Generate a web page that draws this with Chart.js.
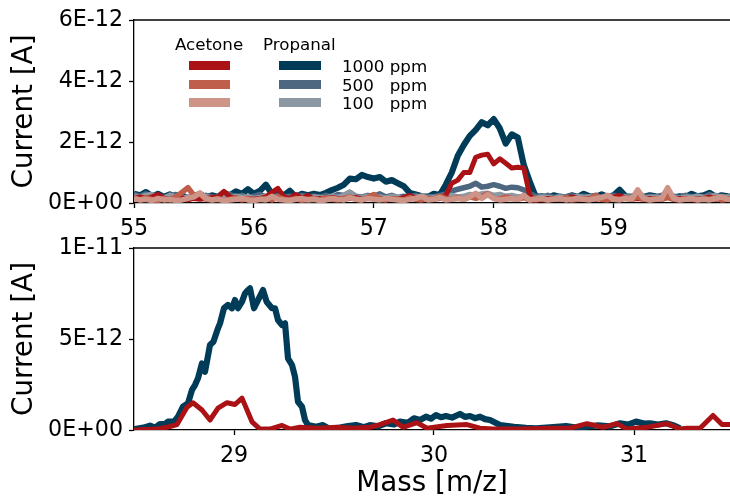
<!DOCTYPE html>
<html><head><meta charset="utf-8">
<script src="https://cdn.jsdelivr.net/npm/chart.js@4.4.1/dist/chart.umd.min.js"></script>
<style>
html,body{margin:0;padding:0;background:#fff;width:730px;height:496px;overflow:hidden;position:relative;}
canvas{position:absolute;left:0;}
#cTop{top:0;}
#cBot{top:228px;}
.lg{position:absolute;font-family:'DejaVu Sans',sans-serif;font-size:16.7px;line-height:1;color:#000;white-space:pre;z-index:5;}
.sw{position:absolute;height:9px;z-index:5;}
</style></head><body>
<canvas id="cTop" width="730" height="240"></canvas>
<canvas id="cBot" width="730" height="268"></canvas>
<div id="legend"></div>
<script>
// ---------------- DATA (currents in units of 1E-12 A) ----------------
const UNIT = 1e-12;

// Top panel: mass grid
const massTop = [
 55.00,55.05,55.10,55.15,55.20,55.25,55.30,55.35,55.40,55.45,
 55.50,55.55,55.60,55.65,55.70,55.75,55.80,55.85,55.90,55.95,
 56.00,56.05,56.10,56.15,56.20,56.25,56.30,56.35,56.40,56.45,
 56.50,56.55,56.60,56.65,56.70,56.75,56.80,56.85,56.90,56.95,
 57.00,57.05,57.10,57.15,57.20,57.25,57.30,57.35,57.40,57.45,
 57.50,57.55,57.60,57.65,57.70,57.75,57.80,57.85,57.90,57.95,
 58.00,58.05,58.10,58.15,58.20,58.25,58.30,58.35,58.40,58.45,
 58.50,58.55,58.60,58.65,58.70,58.75,58.80,58.85,58.90,58.95,
 59.00,59.05,59.10,59.15,59.20,59.25,59.30,59.35,59.40,59.45,
 59.50,59.55,59.60,59.65,59.70,59.75,59.80,59.85,59.90,59.95,
 60.00];

const propanal1000Top = [
 0.30,0.25,0.36,0.22,0.30,0.20,0.28,0.18,0.25,0.15,
 0.22,0.30,0.18,0.25,0.20,0.33,0.25,0.38,0.30,0.45,
 0.30,0.40,0.60,0.30,0.35,0.25,0.40,0.20,0.30,0.25,
 0.30,0.26,0.33,0.42,0.50,0.60,0.80,0.78,0.92,0.85,
 0.80,0.85,0.70,0.75,0.65,0.55,0.33,0.28,0.22,0.20,
 0.30,0.26,0.60,1.00,1.55,1.90,2.20,2.40,2.65,2.55,
 2.75,2.45,1.95,2.25,2.15,1.25,0.70,0.20,0.22,0.15,
 0.25,0.20,0.18,0.25,0.20,0.30,0.22,0.20,0.28,0.20,
 0.25,0.43,0.22,0.20,0.28,0.20,0.25,0.22,0.20,0.28,
 0.18,0.22,0.20,0.30,0.22,0.25,0.33,0.20,0.25,0.22,
 0.20];

const propanal500Top = [
 0.28,0.22,0.30,0.20,0.25,0.18,0.22,0.28,0.20,0.15,
 0.22,0.18,0.25,0.20,0.15,0.22,0.28,0.20,0.25,0.18,
 0.22,0.28,0.20,0.18,0.25,0.20,0.22,0.18,0.25,0.20,
 0.22,0.18,0.25,0.20,0.28,0.25,0.35,0.22,0.20,0.25,
 0.22,0.30,0.20,0.25,0.18,0.22,0.20,0.25,0.18,0.22,
 0.20,0.25,0.30,0.40,0.45,0.50,0.55,0.65,0.52,0.55,
 0.60,0.55,0.48,0.52,0.50,0.43,0.30,0.22,0.20,0.25,
 0.18,0.22,0.20,0.25,0.18,0.22,0.20,0.25,0.18,0.22,
 0.25,0.20,0.22,0.18,0.25,0.20,0.22,0.18,0.25,0.20,
 0.22,0.18,0.25,0.20,0.22,0.18,0.28,0.20,0.22,0.18,
 0.22];

const propanal100Top = [
 0.22,0.18,0.25,0.28,0.20,0.15,0.26,0.18,0.15,0.20,
 0.15,0.18,0.22,0.15,0.20,0.18,0.15,0.22,0.18,0.20,
 0.15,0.18,0.22,0.15,0.20,0.18,0.15,0.20,0.18,0.15,
 0.20,0.18,0.15,0.22,0.18,0.25,0.35,0.20,0.18,0.22,
 0.18,0.20,0.15,0.22,0.18,0.15,0.20,0.18,0.22,0.15,
 0.18,0.20,0.22,0.25,0.20,0.22,0.28,0.25,0.30,0.32,
 0.25,0.28,0.22,0.25,0.20,0.22,0.18,0.15,0.20,0.18,
 0.15,0.20,0.18,0.15,0.22,0.18,0.20,0.15,0.18,0.22,
 0.18,0.15,0.20,0.18,0.22,0.15,0.18,0.20,0.15,0.22,
 0.18,0.15,0.20,0.18,0.22,0.18,0.20,0.25,0.18,0.20,
 0.18];

const acetone1000Top = [
 0.15,0.20,0.15,0.20,0.28,0.15,0.12,0.15,0.18,0.10,
 0.15,0.12,0.15,0.18,0.20,0.38,0.20,0.15,0.12,0.15,
 0.12,0.15,0.20,0.35,0.48,0.20,0.15,0.28,0.15,0.25,
 0.12,0.15,0.12,0.18,0.15,0.12,0.15,0.18,0.12,0.15,
 0.20,0.15,0.12,0.15,0.12,0.18,0.25,0.15,0.12,0.15,
 0.12,0.15,0.25,0.65,0.75,1.00,1.00,1.50,1.57,1.60,
 1.28,1.45,1.30,1.15,1.17,1.15,0.25,0.08,0.12,0.15,
 0.12,0.15,0.12,0.20,0.15,0.12,0.15,0.12,0.15,0.12,
 0.20,0.25,0.15,0.12,0.15,0.12,0.15,0.12,0.15,0.20,
 0.12,0.15,0.12,0.15,0.12,0.15,0.20,0.12,0.15,0.12,
 0.15];

const acetone500Top = [
 0.15,0.10,0.18,0.12,0.08,0.15,0.10,0.20,0.35,0.50,
 0.25,0.30,0.12,0.10,0.15,0.08,0.12,0.18,0.10,0.15,
 0.10,0.12,0.15,0.10,0.20,0.12,0.10,0.15,0.08,0.12,
 0.15,0.10,0.18,0.12,0.10,0.15,0.20,0.12,0.10,0.18,
 0.28,0.12,0.10,0.15,0.12,0.10,0.18,0.12,0.10,0.15,
 0.12,0.22,0.15,0.12,0.18,0.12,0.20,0.15,0.22,0.30,
 0.15,0.12,0.20,0.15,0.12,0.18,0.10,0.15,0.12,0.10,
 0.15,0.12,0.18,0.10,0.12,0.15,0.12,0.25,0.12,0.10,
 0.15,0.12,0.18,0.12,0.20,0.12,0.10,0.15,0.12,0.18,
 0.12,0.10,0.15,0.12,0.10,0.15,0.12,0.18,0.10,0.12,
 0.15];

const acetone100Top = [
 0.15,0.10,0.12,0.08,0.15,0.10,0.12,0.08,0.10,0.15,
 0.20,0.33,0.15,0.10,0.12,0.08,0.10,0.12,0.15,0.10,
 0.08,0.12,0.10,0.22,0.12,0.10,0.08,0.12,0.15,0.10,
 0.12,0.08,0.10,0.15,0.12,0.10,0.18,0.12,0.10,0.15,
 0.12,0.10,0.15,0.12,0.10,0.08,0.12,0.15,0.22,0.10,
 0.12,0.18,0.10,0.12,0.15,0.12,0.20,0.32,0.15,0.28,
 0.15,0.10,0.12,0.15,0.12,0.25,0.10,0.12,0.15,0.10,
 0.12,0.15,0.10,0.12,0.15,0.12,0.10,0.15,0.18,0.25,
 0.12,0.10,0.15,0.12,0.43,0.15,0.10,0.12,0.15,0.50,
 0.15,0.10,0.12,0.15,0.10,0.12,0.10,0.15,0.20,0.12,
 0.10];

// Bottom panel: Propanal 1000 ppm
const massBottomPropanal = [
 28.47,28.505,28.547,28.58,28.605,28.63,28.655,28.67,28.70,28.72,
 28.745,28.77,28.79,28.805,28.82,28.84,28.855,28.88,28.897,28.917,
 28.93,28.95,28.97,28.99,29.005,29.02,29.04,29.055,29.07,29.08,
 29.10,29.12,29.145,29.163,29.19,29.205,29.22,29.24,29.255,29.263,
 29.27,29.29,29.305,29.32,29.34,29.355,29.37,29.41,29.445,29.48,
 29.53,29.57,29.61,29.65,29.68,29.72,29.76,29.80,29.83,29.87,
 29.90,29.93,29.96,29.985,30.01,30.035,30.06,30.09,30.13,30.155,
 30.18,30.205,30.23,30.255,30.28,30.33,30.40,30.46,30.51,30.58,
 30.66,30.72,30.76,30.82,30.88,30.93,30.97,31.01,31.05,31.08,
 31.12,31.16,31.20,31.23];
const propanal1000Bottom = [
 0.05,0.05,0.13,0.24,0.13,0.33,0.33,0.46,0.46,0.73,
 1.28,1.46,2.20,2.47,2.84,3.66,3.20,4.67,4.85,5.50,
 5.86,6.69,6.87,6.69,7.14,6.69,7.05,7.50,7.69,7.78,
 6.69,7.14,7.69,7.05,6.69,6.69,6.04,5.77,5.86,4.85,
 3.94,3.57,2.93,1.55,1.28,0.55,0.27,0.18,0.27,0.05,
 0.13,0.22,0.27,0.15,0.27,0.20,0.37,0.30,0.46,0.40,
 0.64,0.55,0.73,0.62,0.82,0.70,0.77,0.68,0.88,0.72,
 0.77,0.65,0.73,0.60,0.55,0.27,0.18,0.12,0.09,0.15,
 0.22,0.12,0.18,0.25,0.20,0.37,0.30,0.46,0.35,0.37,
 0.30,0.37,0.25,0.09];

// Bottom panel: Acetone 1000 ppm
const massBottomAcetone = [
 28.47,28.505,28.615,28.665,28.715,28.765,28.795,28.84,28.88,28.92,
 28.965,29.005,29.04,29.09,29.13,29.18,29.24,29.28,29.33,29.415,
 29.515,29.595,29.68,29.73,29.795,29.845,29.915,29.965,30.065,30.165,
 30.23,30.295,30.43,30.595,30.68,30.765,30.845,30.915,30.965,31.065,
 31.165,31.23,31.265,31.33,31.395,31.44,31.48,31.53];
const acetone1000Bottom = [
 0.00,0.00,0.05,0.15,0.30,1.25,1.50,1.10,0.55,1.20,
 1.50,1.40,1.75,0.45,0.05,0.05,0.25,0.05,0.15,0.10,
 0.15,0.10,0.15,0.30,0.55,0.15,0.40,0.10,0.25,0.30,
 0.10,0.05,0.05,0.10,0.10,0.35,0.15,0.35,0.05,0.15,
 0.35,0.05,0.10,0.10,0.80,0.30,0.30,0.30];

// Axes / ticks
const topXTicks = [55, 56, 57, 58, 59];
const topXTickLabels = ['55', '56', '57', '58', '59'];
const topYTicks = [0, 2e-12, 4e-12, 6e-12];
const topYTickLabels = ['0E+00', '2E-12', '4E-12', '6E-12'];
const bottomXTicks = [29, 30, 31];
const bottomXTickLabels = ['29', '30', '31'];
const bottomYTicks = [0, 5e-12, 1e-11];
const bottomYTickLabels = ['0E+00', '5E-12', '1E-11'];

// Legend
const compounds = ['Acetone', 'Propanal'];
const concLabels = ['1000 ppm', '500   ppm', '100   ppm'];
const acetoneColors = ['#aa1216', '#bf5e4b', '#cd9487'];
const propanalColors = ['#003c58', '#4e6780', '#8c98a4'];

// ---------------- RENDERING ----------------
const FONT = "'DejaVu Sans', sans-serif";

function toPoints(xs, ys) { return xs.map((x, i) => ({ x: x, y: ys[i] * UNIT })); }

function ds(label, xs, ys, color, width) {
  return { label, data: toPoints(xs, ys), borderColor: color, backgroundColor: color,
    borderWidth: width, pointRadius: 0, pointHoverRadius: 0, tension: 0, fill: false,
    borderJoinStyle: 'round', borderCapStyle: 'butt', clip: 0 };
}

const topSpine = {
  id: 'topSpine',
  afterDraw(chart) {
    const { ctx, chartArea: a } = chart;
    ctx.save(); ctx.strokeStyle = '#000'; ctx.lineWidth = 1.3;
    ctx.beginPath(); ctx.moveTo(a.left - 0.65, a.top); ctx.lineTo(a.right, a.top); ctx.stroke();
    ctx.restore();
  }
};

function makeOptions(o) {
  return {
    responsive: false, animation: false, devicePixelRatio: 1,
    layout: { padding: { top: o.padTop, left: 0, right: 0, bottom: 0 } },
    plugins: { legend: { display: false }, tooltip: { enabled: false } },
    events: [],
    scales: {
      x: {
        type: 'linear', min: o.xMin, max: o.xMax,
        afterBuildTicks: s => { s.ticks = o.xTicks.map(v => ({ value: v })); },
        afterFit: s => { s.height = o.xAxisH; },
        ticks: { font: { family: FONT, size: 22.2 }, color: '#000', padding: 8, maxRotation: 0, autoSkip: false,
          callback: (v, i) => o.xTickLabels[i] },
        grid: { drawOnChartArea: false, drawTicks: true, tickLength: 5, tickColor: '#000', tickWidth: 1.3 },
        border: { display: true, color: '#000', width: 1.3 },
        title: { display: o.xTitle, text: 'Mass [m/z]', color: '#000',
          font: { family: FONT, size: 27.8, lineHeight: 0.85 }, padding: { top: 0, bottom: 0.6 } }
      },
      y: {
        type: 'linear', min: 0, max: o.yMax,
        afterBuildTicks: s => { s.ticks = o.yTicks.map(v => ({ value: v })); },
        afterFit: s => { s.width = 134; },
        ticks: { font: { family: FONT, size: 22.2 }, color: '#000', padding: 6,
          callback: (v, i) => o.yTickLabels[i] },
        grid: { drawOnChartArea: false, drawTicks: true, tickLength: 5, tickColor: '#000', tickWidth: 1.3 },
        border: { display: true, color: '#000', width: 1.3 },
        title: { display: true, text: 'Current [A]', color: '#000',
          font: { family: FONT, size: 27.8, lineHeight: 1 }, padding: { top: 11, bottom: 0 } }
      }
    }
  };
}

// Datasets listed front-to-back (index 0 drawn on top)
new Chart(document.getElementById('cTop'), {
  type: 'line',
  data: { datasets: [
    ds('Acetone 100 ppm', massTop, acetone100Top, acetoneColors[2], 5.5),
    ds('Acetone 500 ppm', massTop, acetone500Top, acetoneColors[1], 5.5),
    ds('Acetone 1000 ppm', massTop, acetone1000Top, acetoneColors[0], 5),
    ds('Propanal 100 ppm', massTop, propanal100Top, propanalColors[2], 5.5),
    ds('Propanal 500 ppm', massTop, propanal500Top, propanalColors[1], 5.5),
    ds('Propanal 1000 ppm', massTop, propanal1000Top, propanalColors[0], 6.2)
  ] },
  options: makeOptions({ padTop: 20, xAxisH: 37, xMin: 55, xMax: 59.97, xTicks: topXTicks, xTickLabels: topXTickLabels,
    yMax: 6e-12, yTicks: topYTicks, yTickLabels: topYTickLabels, xTitle: false }),
  plugins: [topSpine]
});

new Chart(document.getElementById('cBot'), {
  type: 'line',
  data: { datasets: [
    ds('Acetone 1000 ppm', massBottomAcetone, acetone1000Bottom, acetoneColors[0], 5),
    ds('Propanal 1000 ppm', massBottomPropanal, propanal1000Bottom, propanalColors[0], 6.2)
  ] },
  options: makeOptions({ padTop: 20, xAxisH: 66, xMin: 28.5, xMax: 31.48, xTicks: bottomXTicks, xTickLabels: bottomXTickLabels,
    yMax: 1e-11, yTicks: bottomYTicks, yTickLabels: bottomYTickLabels, xTitle: true }),
  plugins: [topSpine]
});

// Legend (HTML text)
(function () {
  const L = document.getElementById('legend');
  function add(cls, css, text) {
    const d = document.createElement('div'); d.className = cls;
    Object.assign(d.style, css); if (text !== undefined) d.textContent = text; L.appendChild(d);
  }
  const headLeft = [175, 263];
  compounds.forEach((c, k) => add('lg', { left: headLeft[k] + 'px', top: '36.4px' }, c));
  const rowTop = [60.8, 79.5, 98.2];
  const labelTop = [57.9, 76.6, 95.3];
  concLabels.forEach((t, r) => {
    add('sw', { left: '189px', width: '41px', top: rowTop[r] + 'px', background: acetoneColors[r] });
    add('sw', { left: '279px', width: '42px', top: rowTop[r] + 'px', background: propanalColors[r] });
    add('lg', { left: '342px', top: labelTop[r] + 'px' }, t);
  });
})();
</script>
</body></html>
